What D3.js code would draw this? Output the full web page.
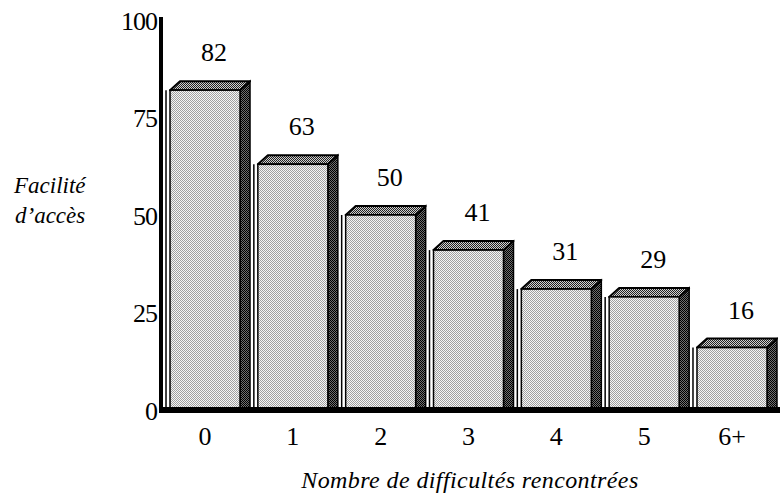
<!DOCTYPE html>
<html>
<head>
<meta charset="utf-8">
<script src="https://cdn.jsdelivr.net/npm/d3@7"></script>
<style>
  html, body { margin: 0; padding: 0; background: #fff; }
  svg { display: block; }
</style>
</head>
<body>
<svg id="chart" width="780" height="500"></svg>
<script>
// Number of difficulties encountered vs. ease of access
const categories = ["0", "1", "2", "3", "4", "5", "6+"];
const values = [82, 63, 50, 41, 31, 29, 16];
const yTicks = [0, 25, 50, 75, 100];
const yTitle = ["Facilité", "d\u2019accès"];
const xTitle = "Nombre de difficultés rencontrées";

const FONT = "'Liberation Serif', serif";

const svg = d3.select("#chart");
const baseY = 410;
const depthX = 10, depthY = 9;

const x = d3.scaleBand()
  .domain(categories)
  .range([160, 777])
  .paddingInner(0.203)
  .paddingOuter(0.114);

const y = d3.scaleLinear().domain([0, 100]).range([baseY, 20]);

// halftone textures for the three visible faces
const defs = svg.append("defs");
function checker(id, a, b) {
  const p = defs.append("pattern")
    .attr("id", id).attr("width", 2).attr("height", 2)
    .attr("patternUnits", "userSpaceOnUse");
  p.append("rect").attr("width", 2).attr("height", 2).attr("fill", b);
  p.append("rect").attr("x", 0).attr("y", 0).attr("width", 1).attr("height", 1).attr("fill", a);
  p.append("rect").attr("x", 1).attr("y", 1).attr("width", 1).attr("height", 1).attr("fill", a);
}
checker("front", "#a0a0a0", "#f6f6f6");
checker("side", "#000", "#707070");
checker("top", "#222", "#d0d0d0");

const bars = svg.append("g").selectAll("g")
  .data(categories.map((c, i) => ({ c, v: values[i] })))
  .join("g");

// thin edge line to the left of each block
bars.append("line")
  .attr("x1", d => x(d.c) - 4).attr("x2", d => x(d.c) - 4)
  .attr("y1", d => y(d.v)).attr("y2", baseY)
  .attr("stroke", "#000").attr("stroke-width", 1.5);

// side face
bars.append("polygon")
  .attr("points", d => {
    const r = x(d.c) + x.bandwidth(), t = y(d.v);
    return [[r, t], [r + depthX, t - depthY], [r + depthX, baseY], [r, baseY]].join(" ");
  })
  .attr("fill", "url(#side)").attr("stroke", "#000").attr("stroke-width", 1.5);

// top face
bars.append("polygon")
  .attr("points", d => {
    const l = x(d.c), r = l + x.bandwidth(), t = y(d.v);
    return [[l, t], [l + depthX, t - depthY], [r + depthX, t - depthY], [r, t]].join(" ");
  })
  .attr("fill", "url(#top)").attr("stroke", "#000").attr("stroke-width", 2)
  .attr("stroke-linejoin", "round");

// front face
bars.append("rect")
  .attr("x", d => x(d.c))
  .attr("y", d => y(d.v))
  .attr("width", x.bandwidth())
  .attr("height", d => baseY - y(d.v))
  .attr("fill", "url(#front)").attr("stroke", "#000").attr("stroke-width", 1.5);

// value labels above each block
bars.append("text")
  .attr("x", d => x(d.c) + x.bandwidth() / 2 + 9)
  .attr("y", d => y(d.v) - depthY - 20)
  .attr("text-anchor", "middle")
  .style("font-family", FONT)
  .style("font-size", "26px")
  .text(d => d.v);

// floor line
svg.append("rect")
  .attr("x", 159).attr("y", baseY - 3)
  .attr("width", 621).attr("height", 6)
  .attr("fill", "#000");

// y axis
const yAxis = d3.axisLeft(y).tickValues(yTicks).tickSize(0).tickPadding(4);
const gy = svg.append("g").attr("transform", "translate(161,0)").call(yAxis);
gy.select(".domain").remove();
gy.selectAll("text")
  .style("font-family", FONT)
  .style("font-size", "26px")
  .attr("dy", "0.35em")
  .attr("letter-spacing", -1);
svg.append("rect")
  .attr("x", 159).attr("y", 17)
  .attr("width", 4).attr("height", baseY + 3 - 17)
  .attr("fill", "#000");

// x axis
const xAxis = d3.axisBottom(x).tickSize(0).tickPadding(0);
const gx = svg.append("g").attr("transform", `translate(0,${baseY})`).call(xAxis);
gx.select(".domain").remove();
gx.selectAll("text")
  .style("font-family", FONT)
  .style("font-size", "26px")
  .attr("dy", null)
  .attr("y", 35);

// axis titles
svg.append("text")
  .attr("text-anchor", "start")
  .style("font-family", FONT)
  .style("font-style", "italic")
  .style("font-size", "23px")
  .selectAll("tspan").data(yTitle).join("tspan")
  .attr("x", (d, i) => 14 + i)
  .attr("y", (d, i) => 193 + i * 30)
  .text(d => d);

svg.append("text")
  .attr("x", 470).attr("y", 488)
  .attr("text-anchor", "middle")
  .style("font-family", FONT)
  .style("font-style", "italic")
  .style("font-size", "24px")
  .attr("letter-spacing", 0.4)
  .text(xTitle);
</script>
</body>
</html>
